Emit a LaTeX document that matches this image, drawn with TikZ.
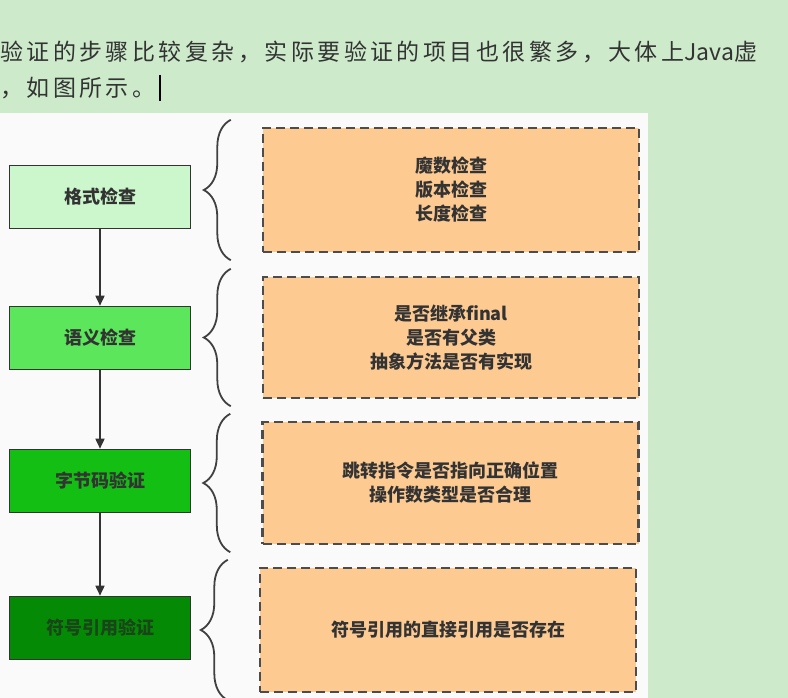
\documentclass[tikz,border=0pt]{standalone}
\usepackage{fontspec}
\setmainfont{Noto Sans CJK SC}
\newfontfamily\introfont{Noto Sans CJK SC}[LetterSpace=15]
\newfontfamily\plainfont{Noto Sans CJK SC}
\usepackage{xcolor}
\usetikzlibrary{arrows.meta,positioning,calc,decorations.pathreplacing}

\definecolor{pagegreen}{HTML}{CDEBCB}
\definecolor{panelwhite}{HTML}{FAFAFA}
\definecolor{stageA}{HTML}{CCF7CC}
\definecolor{stageB}{HTML}{5CE65C}
\definecolor{stageC}{HTML}{12BF12}
\definecolor{stageD}{HTML}{058A05}
\definecolor{chkorange}{HTML}{FDCA92}
\definecolor{inkgray}{HTML}{333333}

\begin{document}
\begin{tikzpicture}[
  x=1pt, y=1pt,
  intro/.style={font=\introfont\fontsize{23}{26}\selectfont, text=inkgray,
    anchor=west, inner sep=0pt},
  stage/.style={draw=inkgray, line width=1.6pt, minimum width=181pt,
    minimum height=63pt, inner sep=0pt, text=inkgray,
    font=\fontsize{18}{22}\selectfont\bfseries},
  check/.style={draw=black!70, line width=2.4pt, dash pattern=on 9pt off 5pt,
    fill=chkorange, minimum width=376pt, inner sep=0pt, align=center,
    text=inkgray, font=\fontsize{18}{24}\selectfont\bfseries},
  arr/.style={-{Triangle[length=10pt,width=9pt]}, line width=1.6pt, inkgray},
  brc/.style={decorate, decoration={brace, amplitude=27pt},
    line width=1.8pt, black!75},
]
\useasboundingbox (0,0) rectangle (788,-698);
\clip (0,0) rectangle (788,-698);
\fill[pagegreen] (0,0) rectangle (788,-698);
\fill[panelwhite] (-5,-113) rectangle (648,-703);

% intro text above the figure
\node[intro] (line1) at (0,-52)
  {验证的步骤比较复杂，实际要验证的项目也很繁多，大体上{\plainfont Java}虚};
\node[intro] (line2) at (0,-88) {，如图所示。};
\coordinate (caret) at (160,-75);
\draw[line width=1.6pt, black] (caret) -- ++(0,-26);

% verification stages
\node[stage, fill=stageA] (fmt) at (100,-197) {格式检查};
\node[stage, fill=stageB] (sem) at (100,-338) {语义检查};
\node[stage, fill=stageC] (byt) at (100,-481) {字节码验证};
\node[stage, fill=stageD, text={rgb,255:red,25;green,70;blue,25}] (sym)
  at (100,-628) {符号引用验证};

\draw[arr] (fmt.south) -- (sem.north);
\draw[arr] (sem.south) -- (byt.north);
\draw[arr] (byt.south) -- (sym.north);

% what each stage checks
\node[check, minimum height=124pt] (fmtd) at (451,-190)
  {魔数检查\\版本检查\\长度检查};
\node[check, minimum height=121pt] (semd) at (451,-337.5)
  {是否继承final\\是否有父类\\抽象方法是否有实现};
\node[check, minimum height=122pt] (bytd) at (450.5,-483)
  {跳转指令是否指向正确位置\\操作数类型是否合理};
\node[check, minimum height=124pt] (symd) at (448,-630)
  {符号引用的直接引用是否存在};

\foreach \d in {fmtd,semd,bytd,symd}
  \draw[brc] ([shift={(-31pt,-7pt)}]\d.south west)
    -- ([shift={(-31pt,7pt)}]\d.north west);
\end{tikzpicture}
\end{document}
